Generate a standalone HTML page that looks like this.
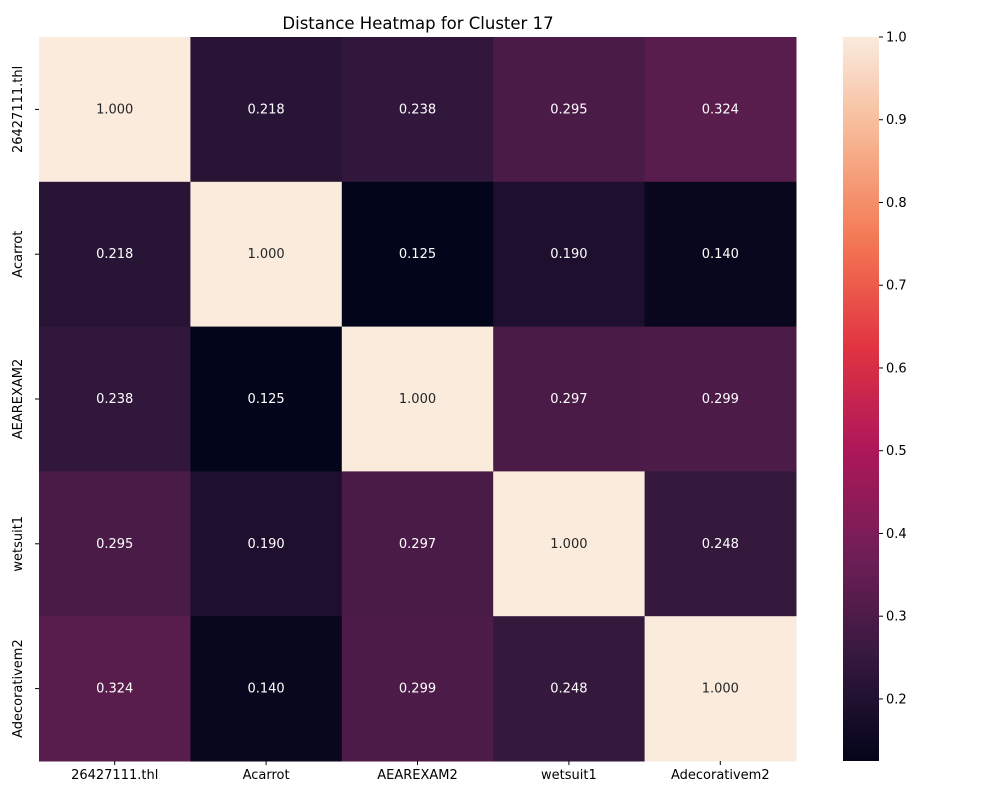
<!DOCTYPE html>
<html><head><meta charset="utf-8">
<style>
body{margin:0;background:#fff;width:1000px;height:800px;overflow:hidden}
svg{font-family:"DejaVu Sans","Liberation Sans",sans-serif}
</style></head>
<body>
<svg id="chart" width="1000" height="800">
<text x="418" y="29" text-anchor="middle" font-size="16.5" fill="#000">Distance Heatmap for Cluster 17</text>
<defs><linearGradient id="cbg" x1="0" y1="1" x2="0" y2="0"></linearGradient></defs>
<g id="cells"></g><g id="xt"></g><g id="yt"></g><g id="cbar"></g>
</svg>
<script>
const labels=["26427111.thl","Acarrot","AEAREXAM2","wetsuit1","Adecorativem2"];
const row0=[1.000,0.218,0.238,0.295,0.324];
const row1=[0.218,1.000,0.125,0.190,0.140];
const row2=[0.238,0.125,1.000,0.297,0.299];
const row3=[0.295,0.190,0.297,1.000,0.248];
const row4=[0.324,0.140,0.299,0.248,1.000];
const matrix=[row0,row1,row2,row3,row4];
const cbTicks=[0.2,0.3,0.4,0.5,0.6,0.7,0.8,0.9,1.0];
const vmin=0.125,vmax=1.0;
const L=39,T=37,R=796,B=761;
const stops=[[0,"#03051a"],[0.143,"#35193e"],[0.286,"#701f57"],[0.429,"#ad1759"],[0.571,"#e13342"],[0.714,"#f37651"],[0.857,"#f6b48f"],[1,"#faebdd"]];
function hex(h){return [1,3,5].map(i=>parseInt(h.substr(i,2),16));}
function cmap(t){t=Math.max(0,Math.min(1,t));for(let i=1;i<stops.length;i++){if(t<=stops[i][0]){const a=stops[i-1],b=stops[i];const f=(t-a[0])/(b[0]-a[0]);const ca=hex(a[1]),cb=hex(b[1]);return "rgb("+ca.map((c,k)=>Math.round(c+(cb[k]-c)*f)).join(",")+")";}}return stops[stops.length-1][1];}
const ns="http://www.w3.org/2000/svg";
function mk(tag,attrs,parent){const e=document.createElementNS(ns,tag);for(const k in attrs)e.setAttribute(k,attrs[k]);parent.appendChild(e);return e;}
const n=labels.length,cw=(R-L)/n,ch=(B-T)/n;
const xs=i=>L+i*cw, ys=j=>T+j*ch;
const cells=document.getElementById('cells');
matrix.forEach((row,j)=>row.forEach((v,i)=>{
  const t=(v-vmin)/(vmax-vmin);
  const r=mk('rect',{x:xs(i),y:ys(j),width:cw+0.5,height:ch+0.5,fill:cmap(t)},cells);
  
  
  const tx=mk('text',{x:xs(i)+cw/2,y:ys(j)+ch/2+4,'text-anchor':'middle','font-size':'13',fill:t>0.6?'#262626':'#fff'},cells);
  tx.textContent=v.toFixed(3);
  
  
}));
const xt=document.getElementById('xt'),yt=document.getElementById('yt');
labels.forEach((lb,i)=>{
  const cx=xs(i)+cw/2;
  mk('line',{x1:cx,x2:cx,y1:B,y2:B+4,stroke:'#000'},xt);
  const t=mk('text',{x:cx,y:B+18,'text-anchor':'middle','font-size':'13'},xt);
  t.textContent=lb;
  
  
  const cy=ys(i)+ch/2;
  mk('line',{x1:L-4,x2:L,y1:cy,y2:cy,stroke:'#000'},yt);
  const u=mk('text',{x:0,y:0,'text-anchor':'middle','font-size':'13',transform:`translate(${L-17},${cy}) rotate(-90)`},yt);
  u.textContent=lb;
  
  
});
const g=document.getElementById('cbg');
for(let k=0;k<=40;k++){mk('stop',{offset:k/40,'stop-color':cmap(k/40)},g);}
const cb=document.getElementById('cbar');
const CL=843,CR=879;
const cy=v=>B-(v-vmin)/(vmax-vmin)*(B-T);
const cr=mk('rect',{x:CL,y:T,width:CR-CL,height:B-T,fill:'url(#cbg)'},cb);


cbTicks.forEach(v=>{
  mk('line',{x1:CR,x2:CR+4,y1:cy(v),y2:cy(v),stroke:'#000'},cb);
  const t=mk('text',{x:CR+7,y:cy(v)+4.5,'font-size':'13'},cb);
  t.textContent=v.toFixed(1);
  
  
});
</script>
</body></html>
